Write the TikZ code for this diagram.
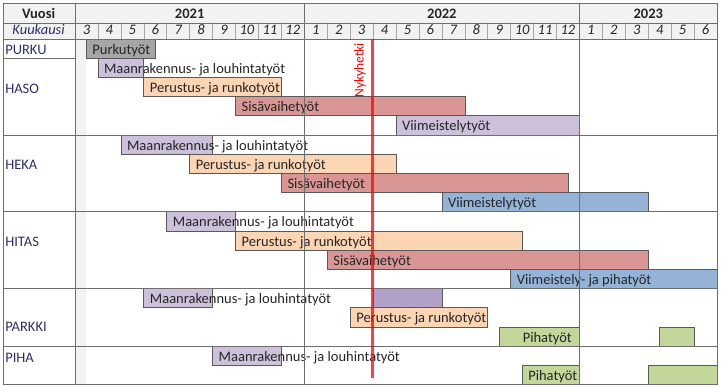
\documentclass[tikz,border=0pt]{standalone}
\usepackage{fontspec}
\setmainfont{Carlito}
\usetikzlibrary{positioning}
\definecolor{gridline}{HTML}{6E6E6E}
\definecolor{thingrid}{HTML}{A6A6A6}
\definecolor{head}{HTML}{F2F2F2}
\definecolor{barline}{HTML}{595959}
\definecolor{txt}{HTML}{262626}
\definecolor{navy}{HTML}{2E2E6A}
\definecolor{purku}{HTML}{A6A6A6}
\definecolor{maa}{HTML}{CCC0DA}
\definecolor{maadark}{HTML}{B1A0C7}
\definecolor{runko}{HTML}{FCD5B4}
\definecolor{sisa}{HTML}{DA9694}
\definecolor{viim}{HTML}{95B3D7}
\definecolor{piha}{HTML}{C4D79B}
\newcommand{\ganttfont}{\fontsize{14.5}{16}\selectfont}

\begin{document}
\begin{tikzpicture}[
  x=22.93pt, y=-19.2pt,
  cell/.style={draw=gridline, line width=0.6pt},
  bar/.style={draw=barline, line width=0.6pt},
  lbl/.style={anchor=base west, inner sep=0pt, font=\ganttfont, text=txt},
  grp/.style={anchor=base west, inner sep=0pt, font=\ganttfont, text=navy},
  hdr/.style={anchor=base, inner sep=0pt, font=\ganttfont\bfseries, text=txt},
  mon/.style={anchor=base, inner sep=0pt, font=\ganttfont\itshape, text=txt},
  nowline/.style={draw=red, opacity=0.75, line width=2.5pt},
]
  \useasboundingbox (-3.271,-2.031) rectangle (28.173,18.073);

  % header and first half month
  \fill[head] (-3.14,-1.875) rectangle (28,0);
  \fill[head] (0,0) rectangle (0.5,18);
  \foreach \i in {1,...,27}
    \draw[thingrid, line width=0.5pt] (\i,-0.833) -- (\i,0);

  \node[hdr] (vuosi) at (-1.59,-1.08) {Vuosi};
  \node[mon, text=navy] (kuukausi) at (-1.59,-0.21) {Kuukausi};
  \node[hdr] (y2021) at (5,-1.08) {2021};
  \node[hdr] (y2022) at (16,-1.08) {2022};
  \node[hdr] (y2023) at (25,-1.08) {2023};
  \foreach \m [count=\i from 0] in {3,4,5,6,7,8,9,10,11,12,1,2,3,4,5,6,7,8,9,10,11,12,1,2,3,4,5,6}
    \node[mon] (m\i) at (\i+0.5,-0.21) {\m};

  % groups
  \node[grp] (purku) at (-3.05,0.83) {PURKU};
  \node[grp] (haso) at (-3.05,2.83) {HASO};
  \node[grp] (heka) at (-3.05,6.82) {HEKA};
  \node[grp] (hitas) at (-3.05,10.82) {HITAS};
  \node[grp] (parkki) at (-3.05,15.24) {PARKKI};
  \node[grp] (piha) at (-3.05,16.84) {PIHA};

  % PURKU
  \draw[bar, fill=purku] (0.5,0) rectangle (3.5,1);
  \node[lbl] (purkuPurku) at (0.75,0.79) {Purkutyöt};

  % HASO
  \draw[bar, fill=maa] (1,1) rectangle (3,2);
  \node[lbl] (hasoMaa) at (1.26,1.79) {Maanrakennus- ja louhintatyöt};
  \draw[bar, fill=runko] (3,2) rectangle (9,3);
  \node[lbl] (hasoRunko) at (3.26,2.79) {Perustus- ja runkotyöt};
  \draw[bar, fill=sisa] (7,3) rectangle (17,4);
  \node[lbl] (hasoSisa) at (7.26,3.79) {Sisävaihetyöt};
  \draw[bar, fill=maa] (14,4) rectangle (22,5);
  \node[lbl] (hasoViim) at (14.26,4.79) {Viimeistelytyöt};

  % HEKA
  \draw[bar, fill=maa] (2,5) rectangle (6,6);
  \node[lbl] (hekaMaa) at (2.26,5.79) {Maanrakennus- ja louhintatyöt};
  \draw[bar, fill=runko] (5,6) rectangle (14,7);
  \node[lbl] (hekaRunko) at (5.26,6.79) {Perustus- ja runkotyöt};
  \draw[bar, fill=sisa] (9,7) rectangle (21.5,8);
  \node[lbl] (hekaSisa) at (9.26,7.79) {Sisävaihetyöt};
  \draw[bar, fill=viim] (16,8) rectangle (25,9);
  \node[lbl] (hekaViim) at (16.26,8.79) {Viimeistelytyöt};

  % HITAS
  \draw[bar, fill=maa] (4,9) rectangle (7,10);
  \node[lbl] (hitasMaa) at (4.26,9.79) {Maanrakennus- ja louhintatyöt};
  \draw[bar, fill=runko] (7,10) rectangle (19.5,11);
  \node[lbl] (hitasRunko) at (7.26,10.79) {Perustus- ja runkotyöt};
  \draw[bar, fill=sisa] (11,11) rectangle (25,12);
  \node[lbl] (hitasSisa) at (11.26,11.79) {Sisävaihetyöt};
  \draw[bar, fill=viim] (19,12) rectangle (28,13);
  \node[lbl] (hitasViim) at (19.26,12.79) {Viimeistely- ja pihatyöt};

  % PARKKI
  \draw[bar, fill=maa] (3,13) rectangle (6,14);
  \draw[bar, fill=maadark] (13,13) rectangle (16,14);
  \node[lbl] (parkkiMaa) at (3.26,13.79) {Maanrakennus- ja louhintatyöt};
  \draw[bar, fill=runko] (12,14) rectangle (18,15);
  \node[lbl] (parkkiRunko) at (12.26,14.79) {Perustus- ja runkotyöt};
  \draw[bar, fill=piha] (18.5,15) rectangle (22,16);
  \draw[bar, fill=piha] (25.5,15) rectangle (27,16);
  \node[lbl] (parkkiPiha) at (19.52,15.79) {Pihatyöt};

  % PIHA
  \draw[bar, fill=maa] (6,16) rectangle (9,17);
  \node[lbl] (pihaMaa) at (6.26,16.79) {Maanrakennus- ja louhintatyöt};
  \draw[bar, fill=piha] (19.5,17) rectangle (22,18);
  \draw[bar, fill=piha] (25,17) rectangle (28,18);
  \node[lbl] (pihaPiha) at (19.76,17.79) {Pihatyöt};

  % table lines
  \draw[cell] (-3.14,-1.875) rectangle (28,18);
  \draw[cell] (-3.14,-0.833) -- (28,-0.833);
  \draw[cell] (-3.14,0) -- (28,0);
  \draw[cell] (0,-1.875) -- (0,18);
  \draw[cell] (-3.14,1) -- (0,1);
  \foreach \r in {5,9,13,16}
    \draw[cell] (-3.14,\r) -- (28,\r);
  \draw[cell] (10,-1.875) -- (10,18);
  \draw[cell] (22,-1.875) -- (22,18);

  % current moment
  \coordinate (nowTop) at (12.97,0);
  \coordinate (nowBot) at (12.97,17.66);
  \draw[nowline] (nowTop) -- (nowBot);
  \node[rotate=90, anchor=east, inner sep=0pt, font=\fontsize{13.5}{15}\selectfont, text=red] (nyky) at (12.43,0.2) {Nykyhetki};
\end{tikzpicture}
\end{document}
